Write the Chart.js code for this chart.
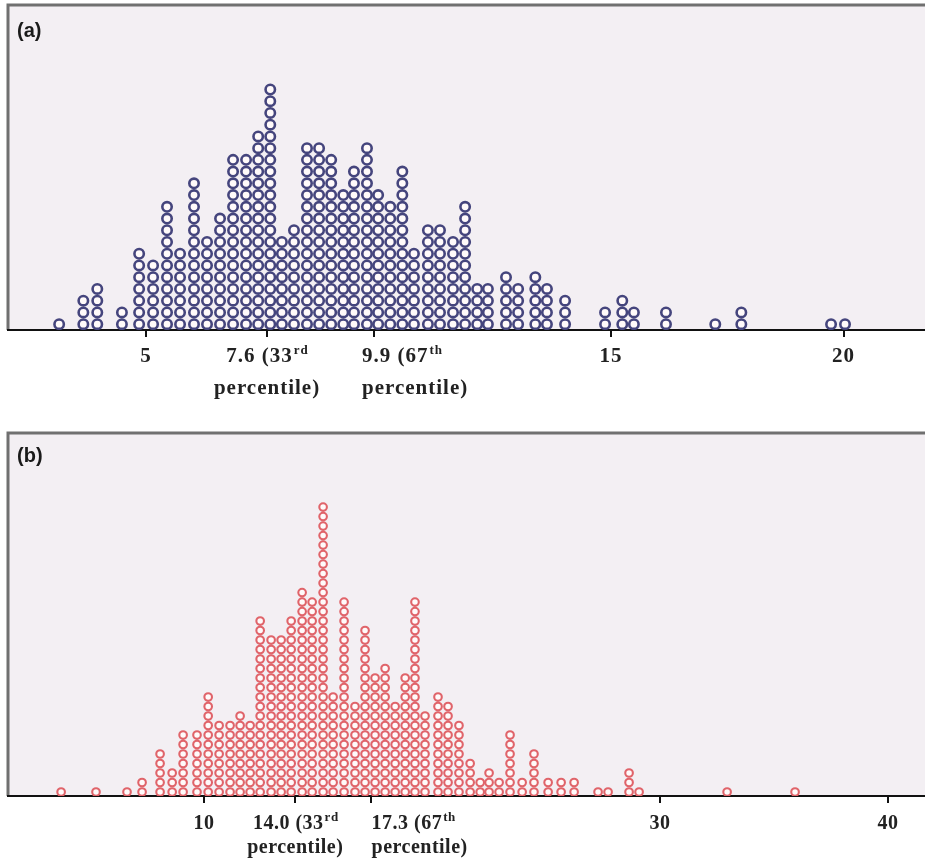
<!DOCTYPE html>
<html>
<head>
<meta charset="utf-8">
<script src="https://cdn.jsdelivr.net/npm/chart.js@4.4.0/dist/chart.umd.min.js"></script>
<style>
  body { margin: 0; background: #fff; }
  #wrap { position: relative; width: 925px; height: 862px; overflow: hidden; }
  canvas { position: absolute; left: 0; }
  #chartA { top: 0; }
  #chartB { top: 410px; }
  .panel { position: absolute; left: 17px; font: bold 20px "Liberation Sans", Arial, sans-serif; color: #1a1a1a; line-height: 1; }
</style>
</head>
<body>
<div id="wrap">
  <canvas id="chartA" width="925" height="410"></canvas>
  <canvas id="chartB" width="925" height="452"></canvas>
  <div class="panel" style="top:20px">(a)</div>
  <div class="panel" style="top:445px">(b)</div>
</div>
<script>
// panel (a): dot columns (value) and how many dots are stacked in each
const binsA = [3.13, 3.65, 3.95, 4.48, 4.85, 5.15, 5.45, 5.73, 6.03, 6.31,
  6.59, 6.87, 7.15, 7.41, 7.67, 7.92, 8.18, 8.46, 8.72, 8.98,
  9.24, 9.47, 9.75, 9.99, 10.25, 10.51, 10.76, 11.06, 11.32, 11.60,
  11.86, 12.12, 12.35, 12.74, 13.00, 13.37, 13.62, 14.01, 14.87, 15.24,
  15.49, 16.18, 17.24, 17.80, 19.73, 20.03];
const countsA = [1, 3, 4, 2, 7, 6, 11, 7, 13, 8,
  10, 15, 15, 17, 21, 8, 9, 16, 16, 15,
  12, 14, 16, 12, 11, 14, 7, 9, 9, 8,
  11, 4, 4, 5, 4, 5, 4, 3, 2, 3,
  2, 2, 1, 2, 1, 1];
const tickValuesA = [5, 7.6, 9.9, 15, 20];
const tickLabelsA = ['5', '7.6 (33^rd|percentile)', '9.9 (67^th|percentile)', '15', '20'];

// panel (b)
const binsB = [3.73, 5.26, 6.62, 7.28, 8.07, 8.60, 9.08, 9.69, 10.18, 10.66,
  11.14, 11.58, 12.02, 12.46, 12.94, 13.38, 13.82, 14.30, 14.74, 15.22,
  15.66, 16.14, 16.62, 17.06, 17.50, 17.94, 18.38, 18.82, 19.25, 19.69,
  20.26, 20.70, 21.18, 21.67, 22.11, 22.50, 22.94, 23.42, 23.95, 24.47,
  25.09, 25.66, 26.23, 27.28, 27.72, 28.64, 29.08, 32.94, 35.92];
const countsB = [1, 1, 1, 2, 5, 3, 7, 7, 11, 8,
  8, 9, 8, 19, 17, 17, 19, 22, 21, 31,
  11, 21, 10, 18, 13, 14, 10, 13, 21, 9,
  11, 10, 8, 4, 2, 3, 2, 7, 2, 5,
  2, 2, 2, 1, 1, 3, 1, 1, 1];
const tickValuesB = [10, 14.0, 17.3, 30, 40];
const tickLabelsB = ['10', '14.0 (33^rd|percentile)', '17.3 (67^th|percentile)', '30', '40'];

function stackDots(bins, counts) {
  const pts = [];
  bins.forEach((b, i) => {
    for (let k = 1; k <= counts[i]; k++) pts.push({ x: b, y: k });
  });
  return pts;
}

const panelBox = {
  id: 'panelBox',
  beforeDraw(chart, args, opts) {
    const { ctx, chartArea: a } = chart;
    ctx.save();
    ctx.fillStyle = opts.fill;
    ctx.fillRect(a.left, a.top, a.right - a.left, a.bottom - a.top);
    ctx.strokeStyle = opts.line;
    ctx.lineWidth = 3;
    ctx.beginPath();
    ctx.moveTo(a.left, a.bottom);
    ctx.lineTo(a.left, a.top);
    ctx.lineTo(a.right, a.top);
    ctx.stroke();
    ctx.restore();
  }
};

// tick labels with superscripts, drawn at the x scale's tick positions
const tickText = {
  id: 'tickText',
  afterDraw(chart, args, opts) {
    const scale = chart.scales.x;
    const ctx = chart.ctx;
    ctx.save();
    ctx.fillStyle = '#222';
    ctx.textBaseline = 'alphabetic';
    ctx.letterSpacing = opts.spacing;
    opts.values.forEach((v, i) => {
      const x = scale.getPixelForValue(v);
      opts.labels[i].split('|').forEach((line, j) => {
        const [main, sup] = line.split('^');
        const y = scale.top + opts.first + j * opts.gap;
        ctx.font = `bold ${opts.size}px "Liberation Serif", serif`;
        const w1 = ctx.measureText(main).width;
        ctx.font = `bold ${opts.supSize}px "Liberation Serif", serif`;
        const w2 = sup ? ctx.measureText(sup).width : 0;
        const x0 = opts.align[i] === 'left' ? x + opts.leftShift : x - (w1 + w2) / 2;
        ctx.font = `bold ${opts.size}px "Liberation Serif", serif`;
        ctx.fillText(main, x0, y);
        if (sup) {
          ctx.font = `bold ${opts.supSize}px "Liberation Serif", serif`;
          ctx.fillText(sup, x0 + w1 + 1, y - opts.size * 0.38);
        }
      });
    });
    ctx.restore();
  }
};

function makeChart(id, cfg) {
  new Chart(document.getElementById(id), {
    type: 'scatter',
    data: {
      datasets: [{
        data: stackDots(cfg.bins, cfg.counts),
        pointRadius: cfg.radius,
        pointHoverRadius: cfg.radius,
        borderWidth: cfg.ring,
        borderColor: cfg.color,
        backgroundColor: '#fffafa'
      }]
    },
    options: {
      responsive: false,
      animation: false,
      events: [],
      layout: { autoPadding: false, padding: { top: cfg.padTop, left: 8, right: 0, bottom: 0 } },
      plugins: {
        legend: { display: false },
        tooltip: { enabled: false },
        panelBox: { fill: '#f3eff3', line: '#707070' },
        tickText: {
          values: cfg.tickValues, labels: cfg.tickLabels,
          align: ['center', 'center', 'left', 'center', 'center'],
          size: cfg.fontSize, supSize: cfg.supSize,
          first: cfg.labelFirst, gap: cfg.labelGap,
          spacing: cfg.spacing, leftShift: cfg.leftShift
        }
      },
      scales: {
        x: {
          type: 'linear',
          min: cfg.xmin,
          max: cfg.xmax,
          afterBuildTicks: s => { s.ticks = cfg.tickValues.map(v => ({ value: v })); },
          afterFit: s => { s.height = cfg.axisHeight; },
          ticks: { display: false },
          grid: { drawOnChartArea: false, drawTicks: true, tickLength: 7, color: '#111', lineWidth: 2 },
          border: { display: true, color: '#111', width: 2 }
        },
        y: { display: false, min: cfg.ymin, max: cfg.ymax }
      }
    },
    plugins: [panelBox, tickText]
  });
}

makeChart('chartA', {
  bins: binsA, counts: countsA, tickValues: tickValuesA, tickLabels: tickLabelsA,
  color: '#45457d', radius: 4.7, ring: 2.6,
  xmin: 2.03, xmax: 21.75, ymin: 0.5, ymax: 28.2,
  padTop: 5, axisHeight: 80, fontSize: 21, supSize: 13, labelFirst: 32, labelGap: 32,
  spacing: '1px', leftShift: -12
});

makeChart('chartB', {
  bins: binsB, counts: countsB, tickValues: tickValuesB, tickLabels: tickLabelsB,
  color: '#e0646a', radius: 3.8, ring: 2.1,
  xmin: 1.40, xmax: 41.62, ymin: 0.58, ymax: 38.8,
  padTop: 23, axisHeight: 66, fontSize: 20, supSize: 13, labelFirst: 33, labelGap: 24,
  spacing: '0.5px', leftShift: 1
});
</script>
</body>
</html>
